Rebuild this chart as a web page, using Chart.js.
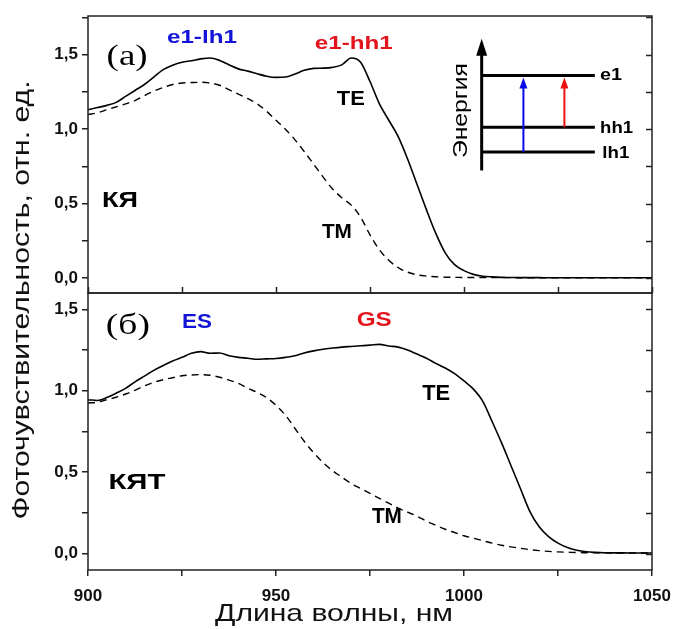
<!DOCTYPE html>
<html>
<head>
<meta charset="utf-8">
<script src="https://cdn.jsdelivr.net/npm/chart.js@4/dist/chart.umd.min.js"></script>
<style>
html,body{margin:0;padding:0;background:#fff;}
canvas{display:block;}
</style>
</head>
<body>
<canvas id="c" width="674" height="629"></canvas>
<script>
// ---- data ----
const wavelength = [900, 902.5, 905, 907.5, 910, 912.5, 915, 917.5, 920, 922.5,
  925, 927.5, 930, 932.5, 935, 937.5, 940, 942.5, 945, 947.5,
  950, 952.5, 955, 957.5, 960, 962.5, 965, 967.5, 970, 972.5,
  975, 977.5, 980, 982.5, 985, 987.5, 990, 992.5, 995, 997.5,
  1000, 1002.5, 1005, 1007.5, 1010, 1012.5, 1015, 1017.5, 1020, 1022.5,
  1025, 1027.5, 1030, 1032.5, 1035, 1037.5, 1040, 1042.5, 1045, 1047.5, 1050];

// panel (а) КЯ
const qwTE = [1.13, 1.145, 1.16, 1.18, 1.22, 1.26, 1.30, 1.35, 1.40, 1.43,
  1.45, 1.46, 1.472, 1.478, 1.462, 1.432, 1.405, 1.39, 1.372, 1.356,
  1.348, 1.35, 1.37, 1.395, 1.408, 1.41, 1.415, 1.432, 1.478, 1.45,
  1.32, 1.17, 1.06, 0.95, 0.80, 0.63, 0.46, 0.30, 0.17, 0.09,
  0.05, 0.025, 0.013, 0.008, 0.005, 0.004, 0.003, 0.003, 0.003, 0.002,
  0.002, 0.002, 0.002, 0.002, 0.002, 0.002, 0.002, 0.002, 0.002, 0.002, 0.002];
const qwTM = [1.098, 1.11, 1.13, 1.15, 1.17, 1.192, 1.225, 1.255, 1.28, 1.30,
  1.31, 1.313, 1.315, 1.31, 1.295, 1.265, 1.235, 1.205, 1.17, 1.12,
  1.06, 1.0, 0.93, 0.85, 0.765, 0.68, 0.60, 0.54, 0.49, 0.41,
  0.29, 0.19, 0.12, 0.07, 0.04, 0.022, 0.014, 0.009, 0.006, 0.005,
  0.004, 0.004, 0.003, 0.003, 0.003, 0.003, 0.002, 0.002, 0.002, 0.002,
  0.002, 0.002, 0.002, 0.002, 0.002, 0.002, 0.002, 0.002, 0.002, 0.002, 0.002];

// panel (б) КЯТ
const qdTE = [0.945, 0.94, 0.958, 0.985, 1.015, 1.055, 1.09, 1.125, 1.155, 1.183,
  1.205, 1.23, 1.24, 1.23, 1.232, 1.215, 1.205, 1.20, 1.193, 1.196,
  1.198, 1.205, 1.215, 1.232, 1.245, 1.255, 1.262, 1.268, 1.272, 1.276,
  1.28, 1.285, 1.275, 1.268, 1.25, 1.225, 1.20, 1.168, 1.14, 1.105,
  1.06, 1.01, 0.935, 0.81, 0.68, 0.54, 0.40, 0.26, 0.165, 0.105,
  0.065, 0.038, 0.021, 0.012, 0.008, 0.006, 0.005, 0.005, 0.004, 0.004, 0.004];
const qdTM = [0.925, 0.93, 0.945, 0.96, 0.98, 1.003, 1.03, 1.052, 1.068, 1.08,
  1.092, 1.097, 1.099, 1.095, 1.083, 1.065, 1.045, 1.015, 0.99, 0.958,
  0.91, 0.85, 0.77, 0.69, 0.62, 0.56, 0.51, 0.47, 0.43, 0.40,
  0.37, 0.34, 0.31, 0.28, 0.255, 0.23, 0.20, 0.175, 0.15, 0.13,
  0.11, 0.095, 0.08, 0.065, 0.052, 0.042, 0.033, 0.025, 0.019, 0.014,
  0.011, 0.009, 0.007, 0.006, 0.005, 0.005, 0.004, 0.004, 0.004, 0.004, 0.004];

const xTicks = [900, 925, 950, 975, 1000, 1025, 1050];
const xTickLabels = ['900', '', '950', '', '1000', '', '1050'];
const yTicks = [0, 0.25, 0.5, 0.75, 1, 1.25, 1.5, 1.75];
const yTickLabels = ['0,0', '', '0,5', '', '1,0', '', '1,5', ''];

const xTitle = 'Длина волны, нм';
const yTitle = 'Фоточувствительность, отн. ед.';

// ---- text annotations (placed in data coordinates) ----
const SANS = "'Liberation Sans', Arial, sans-serif";
const SERIF = "'Liberation Serif', 'Times New Roman', serif";
const BLUE = '#1414d8';
const RED = '#e4141c';
const notes = [
  {p:'yA', t:'(а)', x:910.4, y:1.487, f:'30px ' + SERIF, c:'#000', w:41},
  {p:'yA', t:'e1-lh1', x:930.3, y:1.614, f:'bold 18px ' + SANS, c:BLUE, w:70},
  {p:'yA', t:'e1-hh1', x:970.7, y:1.574, f:'bold 18px ' + SANS, c:RED, w:78},
  {p:'yA', t:'TE', x:969.9, y:1.199, f:'bold 21px ' + SANS, c:'#000', w:28},
  {p:'yA', t:'TM', x:966.2, y:0.308, f:'bold 21px ' + SANS, c:'#000', w:30},
  {p:'yA', t:'КЯ', x:908.5, y:0.516, f:'bold 22px ' + SANS, c:'#000', w:36},
  {p:'yA', t:'e1', x:1036.2, y:1.36, f:'bold 17px ' + SANS, c:'#000', w:22, a:'left'},
  {p:'yA', t:'hh1', x:1036.2, y:1.005, f:'bold 17px ' + SANS, c:'#000', w:33, a:'left'},
  {p:'yA', t:'lh1', x:1036.8, y:0.84, f:'bold 17px ' + SANS, c:'#000', w:27, a:'left'},
  {p:'yA', t:'Энергия', x:999.2, y:1.125, f:'20px ' + SANS, c:'#000', w:95, r:true},
  {p:'yB', t:'(б)', x:910.6, y:1.397, f:'30px ' + SERIF, c:'#000', w:44},
  {p:'yB', t:'ES', x:929, y:1.421, f:'bold 20px ' + SANS, c:BLUE, w:30},
  {p:'yB', t:'GS', x:976.1, y:1.433, f:'bold 20px ' + SANS, c:RED, w:35},
  {p:'yB', t:'TE', x:992.6, y:0.979, f:'bold 22px ' + SANS, c:'#000', w:28},
  {p:'yB', t:'TM', x:979.5, y:0.223, f:'bold 22px ' + SANS, c:'#000', w:30},
  {p:'yB', t:'КЯТ', x:913, y:0.432, f:'bold 22px ' + SANS, c:'#000', w:57}
];
// energy-level inset (data coordinates of panel а)
const inset = {axisX:1004.7, axisY0:0.723, axisTip:1.607, levelX1:1034.8,
  levels:{e1:1.36, hh1:1.013, lh1:0.846}, blueX:1015.8, redX:1026.7};

function fitText(ctx, text, x, y, font, color, w, align, rotate) {
  ctx.save();
  ctx.font = font;
  const nat = ctx.measureText(text).width;
  const sx = w ? w / nat : 1;
  ctx.translate(x, y);
  if (rotate) ctx.rotate(-Math.PI / 2);
  ctx.scale(sx, 1);
  ctx.fillStyle = color;
  ctx.textAlign = align || 'center';
  ctx.textBaseline = 'middle';
  ctx.fillText(text, 0, 0);
  ctx.restore();
}

function arrow(ctx, x, y0, y1, color, lw, hl, hw) {
  ctx.save();
  ctx.strokeStyle = color; ctx.fillStyle = color; ctx.lineWidth = lw;
  ctx.beginPath(); ctx.moveTo(x, y0); ctx.lineTo(x, y1 + hl * 0.8); ctx.stroke();
  ctx.beginPath(); ctx.moveTo(x, y1); ctx.lineTo(x - hw / 2, y1 + hl); ctx.lineTo(x + hw / 2, y1 + hl); ctx.closePath(); ctx.fill();
  ctx.restore();
}

const decor = {
  id: 'decor',
  afterDraw(chart) {
    const ctx = chart.ctx;
    const xs = chart.scales.x, yA = chart.scales.yA, yB = chart.scales.yB;
    const L = chart.chartArea.left, R = chart.chartArea.right;
    ctx.save();
    ctx.strokeStyle = '#222';
    ctx.lineWidth = 1.5;
    // frames
    ctx.strokeRect(L, yA.top, R - L, yA.bottom - yA.top);
    ctx.strokeRect(L, yB.top, R - L, yB.bottom - yB.top);
    // right inward ticks
    [yA, yB].forEach(s => {
      yTicks.forEach(v => {
        if (v < s.min || v > s.max) return;
        const py = Math.round(s.getPixelForValue(v)) + 0.5;
        ctx.beginPath(); ctx.moveTo(R - 6, py); ctx.lineTo(R, py); ctx.stroke();
      });
    });
    // inward x ticks at bottom of top panel
    xTicks.forEach(v => {
      const px = Math.round(xs.getPixelForValue(v)) + 0.5;
      ctx.beginPath(); ctx.moveTo(px, yA.bottom); ctx.lineTo(px, yA.bottom - 6); ctx.stroke();
    });
    ctx.restore();

    // inset energy diagram
    const X = v => xs.getPixelForValue(v), YA = v => yA.getPixelForValue(v);
    ctx.save();
    ctx.strokeStyle = '#000'; ctx.lineWidth = 3;
    const ax = X(inset.axisX);
    ctx.beginPath(); ctx.moveTo(ax, YA(inset.axisY0)); ctx.lineTo(ax, YA(inset.axisTip) + 12); ctx.stroke();
    ctx.fillStyle = '#000';
    ctx.beginPath(); ctx.moveTo(ax, YA(inset.axisTip)); ctx.lineTo(ax - 5.5, YA(inset.axisTip) + 17); ctx.lineTo(ax + 5.5, YA(inset.axisTip) + 17); ctx.closePath(); ctx.fill();
    Object.values(inset.levels).forEach(v => {
      ctx.beginPath(); ctx.moveTo(ax, YA(v)); ctx.lineTo(X(inset.levelX1), YA(v)); ctx.stroke();
    });
    ctx.restore();
    arrow(ctx, X(inset.blueX), YA(inset.levels.lh1), YA(inset.levels.e1) + 2, '#0a0ae6', 2, 11, 8);
    arrow(ctx, X(inset.redX), YA(inset.levels.hh1), YA(inset.levels.e1) + 2, '#f01010', 2, 11, 8);

    // annotations
    notes.forEach(n => {
      const s = chart.scales[n.p];
      fitText(ctx, n.t, xs.getPixelForValue(n.x), s.getPixelForValue(n.y), n.f, n.c, n.w, n.a, n.r);
    });

    // axis titles
    fitText(ctx, xTitle, 334, 614, '24px ' + SANS, '#111', 238);
    fitText(ctx, yTitle, 22, 300, '24px ' + SANS, '#111', 439, 'center', true);
  }
};

const pts = arr => wavelength.map((w, i) => ({x: w, y: arr[i]}));
const lineStyle = (dash) => ({
  borderColor: '#000', borderWidth: dash ? 1.4 : 1.6, borderDash: dash ? [7, 5] : [],
  pointRadius: 0, fill: false, cubicInterpolationMode: 'monotone'
});
const tickFont = {family: SANS, size: 17, weight: 'bold'};
const yScale = (max, weight) => ({
  type: 'linear', position: 'left', stack: 'panels', stackWeight: 1, weight: weight,
  min: -0.1, max: max,
  afterBuildTicks: s => { s.ticks = yTicks.filter(v => v <= max).map(v => ({value: v})); },
  afterFit: s => { s.width = 88; s.paddingTop = 0; s.paddingBottom = 0; },
  ticks: {
    autoSkip: false, padding: 4, color: '#111', font: tickFont,
    callback: v => { const i = yTicks.findIndex(t => Math.abs(t - v) < 1e-6); return i < 0 ? '' : yTickLabels[i]; }
  },
  grid: {display: true, drawOnChartArea: false, drawTicks: true, tickLength: 6, color: '#222', lineWidth: 1.5},
  border: {display: false}
});

new Chart(document.getElementById('c'), {
  type: 'line',
  data: {
    datasets: [
      Object.assign({label: 'КЯ TE', data: pts(qwTE), yAxisID: 'yA'}, lineStyle(false)),
      Object.assign({label: 'КЯ TM', data: pts(qwTM), yAxisID: 'yA'}, lineStyle(true)),
      Object.assign({label: 'КЯТ TE', data: pts(qdTE), yAxisID: 'yB'}, lineStyle(false)),
      Object.assign({label: 'КЯТ TM', data: pts(qdTM), yAxisID: 'yB'}, lineStyle(true))
    ]
  },
  options: {
    responsive: false,
    animation: false,
    layout: {padding: {left: 0, right: 22, top: 16, bottom: 0}},
    plugins: {legend: {display: false}, tooltip: {enabled: false}},
    scales: {
      x: {
        type: 'linear', position: 'bottom', min: 900, max: 1050,
        afterBuildTicks: s => { s.ticks = xTicks.map(v => ({value: v})); },
        afterFit: s => { s.height = 59; s.paddingLeft = 0; s.paddingRight = 0; },
        ticks: {
          autoSkip: false, maxRotation: 0, padding: 10, color: '#111', font: tickFont,
          callback: v => { const i = xTicks.indexOf(v); return i < 0 ? '' : xTickLabels[i]; }
        },
        grid: {display: true, drawOnChartArea: false, drawTicks: true, tickLength: 6, color: '#222', lineWidth: 1.5},
        border: {display: false}
      },
      yB: yScale(1.6, 0),
      yA: yScale(1.76, 1)
    }
  },
  plugins: [decor]
});
</script>
</body>
</html>
